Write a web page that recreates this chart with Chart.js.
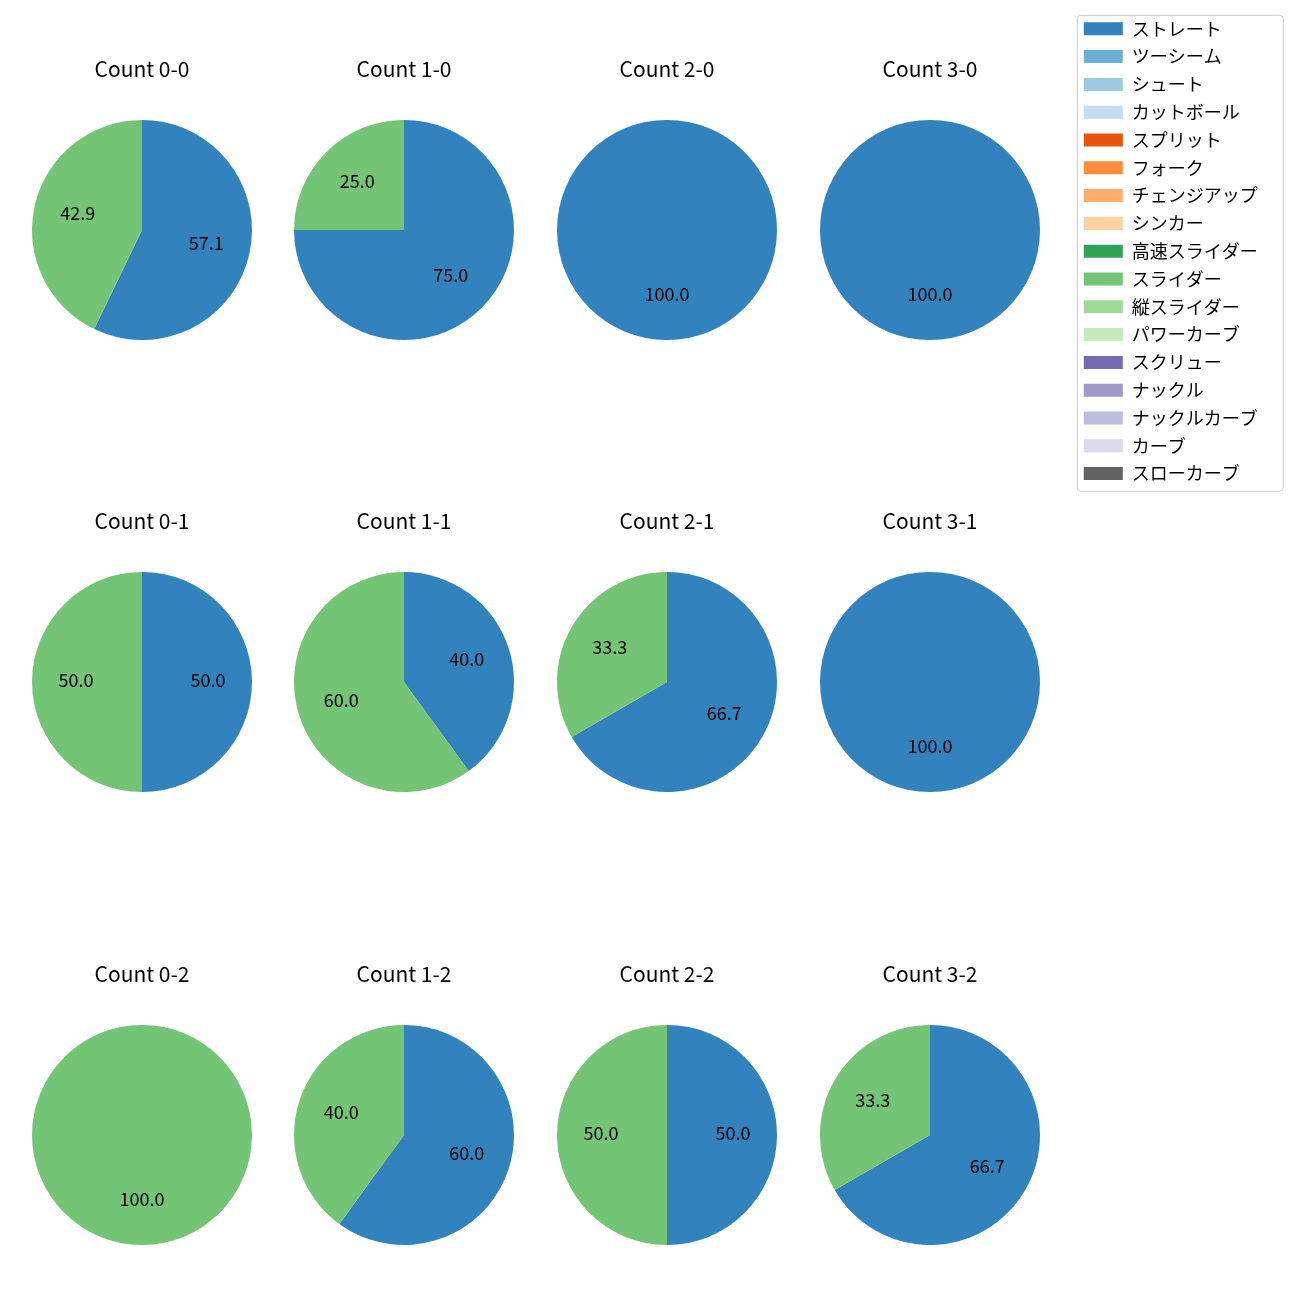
<!DOCTYPE html>
<html>
<head>
<meta charset="utf-8">
<script src="https://cdn.jsdelivr.net/npm/chart.js@4.4.1/dist/chart.umd.min.js"></script>
<style>
  body { margin: 0; background: #fff; width: 1300px; height: 1300px; position: relative; overflow: hidden; }
  canvas { position: absolute; }
</style>
</head>
<body>
<script>
// pitch types (legend order) and their colours
const pitchTypes = ["ストレート", "ツーシーム", "シュート", "カットボール", "スプリット", "フォーク",
  "チェンジアップ", "シンカー", "高速スライダー", "スライダー", "縦スライダー", "パワーカーブ",
  "スクリュー", "ナックル", "ナックルカーブ", "カーブ", "スローカーブ"];
const pitchColors = ["#3182bd", "#6baed6", "#9ecae1", "#c6dbef", "#e6550d", "#fd8d3c",
  "#fdae6b", "#fdd0a2", "#31a354", "#74c476", "#a1d99b", "#c7e9c0",
  "#756bb1", "#9e9ac8", "#bcbddc", "#dadaeb", "#636363"];

// counts, row by row
const countLabels = ["0-0", "1-0", "2-0", "3-0", "0-1", "1-1", "2-1", "3-1", "0-2", "1-2", "2-2", "3-2"];
const straightCounts = [4, 3, 1, 1, 1, 2, 2, 1, 0, 3, 1, 2];
const sliderCounts   = [3, 1, 0, 0, 1, 3, 1, 0, 1, 2, 1, 1];

const colX = [142, 404, 667, 930];
const rowTop = [29, 481, 934];
const FONT = '"Noto Sans CJK JP", "Noto Sans", sans-serif';

const pctLabels = {
  id: 'pctLabels',
  afterDatasetsDraw(chart) {
    const ctx = chart.ctx;
    const meta = chart.getDatasetMeta(0);
    const values = chart.data.datasets[0].data;
    const total = values.reduce((a, b) => a + b, 0);
    ctx.save();
    ctx.font = '18px ' + FONT;
    ctx.fillStyle = '#000';
    ctx.textAlign = 'center';
    ctx.textBaseline = 'middle';
    meta.data.forEach((arc, i) => {
      if (!values[i]) return;
      const p = arc.getProps(['x', 'y', 'startAngle', 'endAngle', 'outerRadius'], true);
      const mid = (p.startAngle + p.endAngle) / 2;
      const r = p.outerRadius * 0.6;
      ctx.fillText((values[i] / total * 100).toFixed(1), p.x + Math.cos(mid) * r, p.y + Math.sin(mid) * r - 2);
    });
    ctx.restore();
  }
};

function makeCanvas(left, top, w, h) {
  const c = document.createElement('canvas');
  c.width = w; c.height = h;
  c.style.left = left + 'px'; c.style.top = top + 'px';
  c.style.width = w + 'px'; c.style.height = h + 'px';
  document.body.appendChild(c);
  return c;
}

countLabels.forEach((cnt, i) => {
  const cv = makeCanvas(colX[i % 4] - 110, rowTop[Math.floor(i / 4)], 220, 311);
  new Chart(cv, {
    type: 'pie',
    data: {
      labels: [pitchTypes[0], pitchTypes[9]],
      datasets: [{
        data: [straightCounts[i], sliderCounts[i]],
        backgroundColor: [pitchColors[0], pitchColors[9]],
        borderWidth: 0
      }]
    },
    options: {
      responsive: false,
      devicePixelRatio: 1,
      animation: false,
      layout: { padding: 0 },
      plugins: {
        legend: { display: false },
        tooltip: { enabled: false },
        title: {
          display: true,
          text: 'Count ' + cnt,
          color: '#000',
          font: { family: FONT, size: 21, weight: 'normal' },
          padding: { top: 27.4, bottom: 38.4 }
        }
      }
    },
    plugins: [pctLabels]
  });
});

// legend
const legendFrame = {
  id: 'legendFrame',
  afterDraw(chart) {
    const ctx = chart.ctx;
    ctx.save();
    ctx.strokeStyle = '#cccccc';
    ctx.lineWidth = 1;
    ctx.beginPath();
    ctx.roundRect(3.3, 5.3, 206, 476, 4);
    ctx.stroke();
    ctx.restore();
  }
};

const lc = makeCanvas(1074, 10, 222, 500);
new Chart(lc, {
  type: 'pie',
  data: {
    labels: pitchTypes,
    datasets: [{
      data: pitchTypes.map(() => 0),
      backgroundColor: pitchColors,
      borderWidth: 0
    }]
  },
  options: {
    responsive: false,
    devicePixelRatio: 1,
    animation: false,
    plugins: {
      tooltip: { enabled: false },
      legend: {
        position: 'left',
        align: 'start',
        maxWidth: 222,
        labels: {
          color: '#000',
          font: { family: FONT, size: 18 },
          boxWidth: 39,
          boxHeight: 13,
          padding: 9.8
        }
      }
    }
  },
  plugins: [legendFrame]
});
</script>
</body>
</html>
